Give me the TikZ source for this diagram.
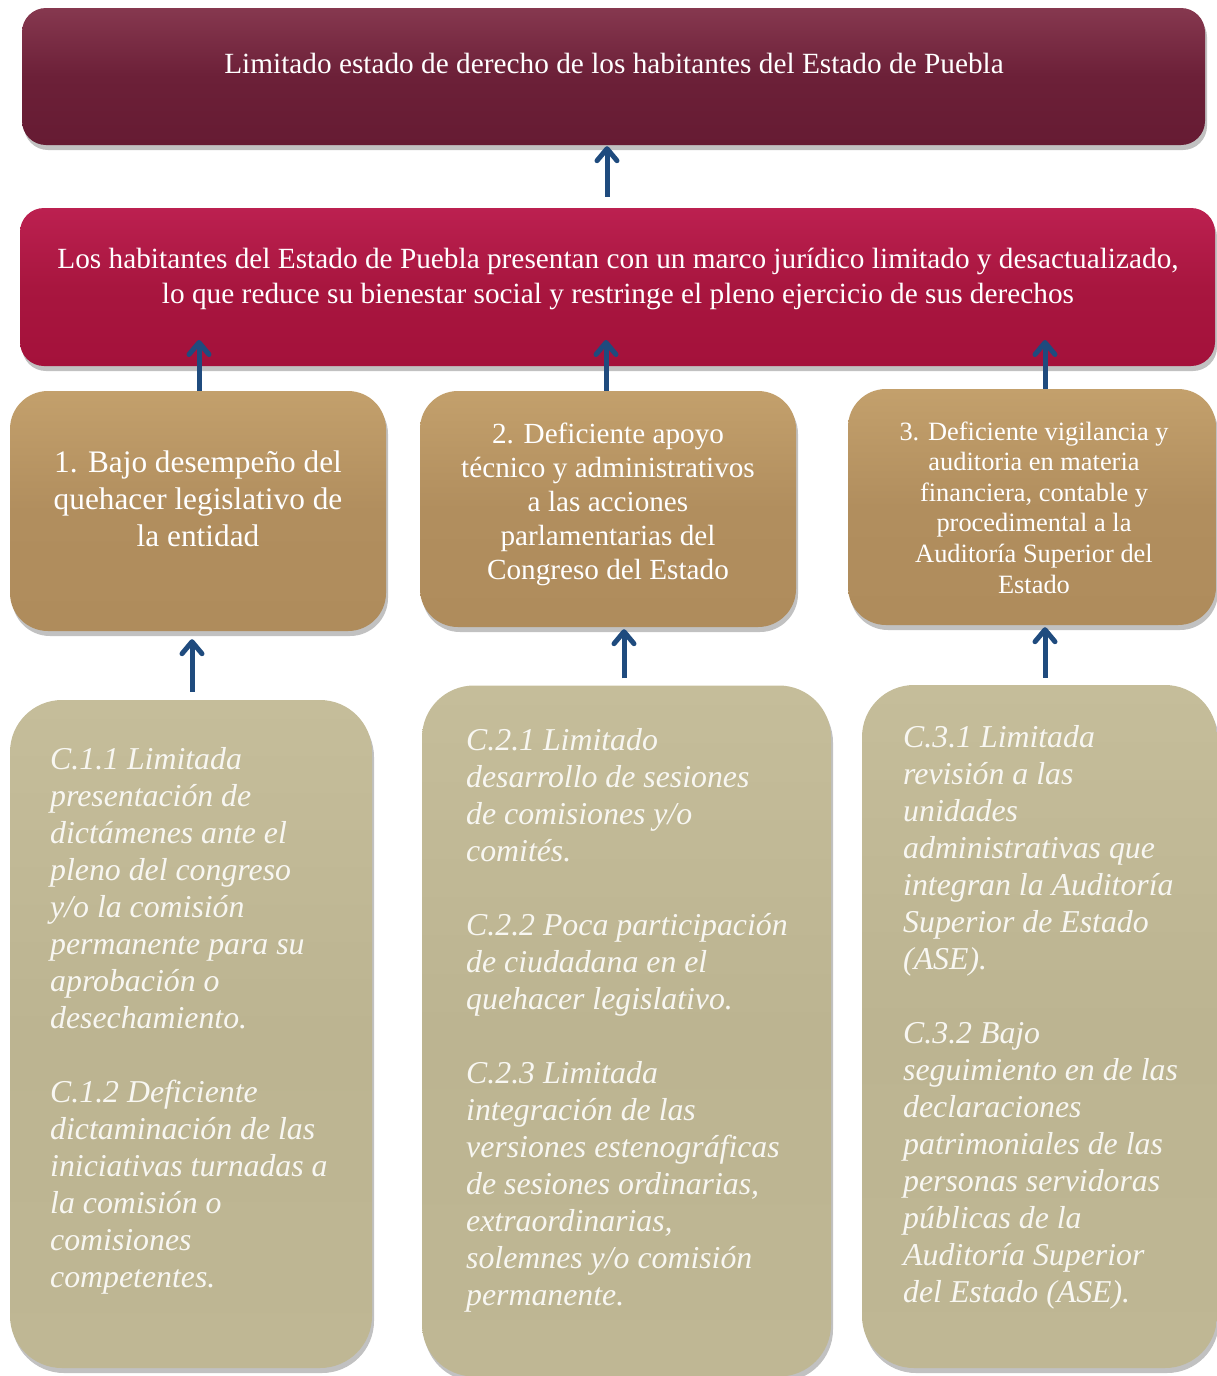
\documentclass[tikz,border=0pt]{standalone}
\usepackage{fontspec}
\setmainfont{Liberation Serif}
\usetikzlibrary{shadows,arrows.meta}
\definecolor{arrblue}{HTML}{1F4B7E}
\definecolor{ctext}{HTML}{F8F7F2}
\definecolor{aTop}{HTML}{86384F}\definecolor{aMid}{HTML}{6C2038}\definecolor{aBot}{HTML}{661B33}
\definecolor{bTop}{HTML}{BC2050}\definecolor{bMid}{HTML}{A8163F}\definecolor{bBot}{HTML}{A4113B}
\definecolor{tTop}{HTML}{C3A06C}\definecolor{tMid}{HTML}{B18E5E}\definecolor{tBot}{HTML}{AF8C5C}
\definecolor{cTop}{HTML}{C5BD9A}\definecolor{cMid}{HTML}{BCB491}\definecolor{cBot}{HTML}{BFB794}
\tikzset{
  shad/.style={drop shadow={shadow xshift=2pt,shadow yshift=-5pt,opacity=0.35,fill=black!70}},
  boxA/.style={shad,rounded corners=24pt,top color=aTop,bottom color=aBot,middle color=aMid,inner sep=0pt},
  boxB/.style={shad,rounded corners=24pt,top color=bTop,bottom color=bBot,middle color=bMid,inner sep=0pt},
  boxT/.style={shad,rounded corners=38pt,top color=tTop,bottom color=tBot,middle color=tMid,inner sep=0pt},
  boxC/.style={shad,rounded corners=52pt,top color=cTop,bottom color=cBot,middle color=cMid,inner sep=0pt},
  wtext/.style={text=white,align=center,inner sep=0pt},
  ctxt/.style={text=ctext,align=left,inner sep=0pt,anchor=north west,font=\fontsize{31.8}{37}\selectfont\itshape},
  arr/.style={draw=arrblue,line width=5pt,-{Straight Barb[length=12pt,width=20pt,round]}},
}
\begin{document}
\begin{tikzpicture}[x=1pt,y=-1pt]
\useasboundingbox (0,0) rectangle (1217,1376);
% boxes
\node[boxA,minimum width=1183pt,minimum height=137pt] (bA) at (613.5,76.5) {};
\node[boxB,minimum width=1195pt,minimum height=158pt] (bB) at (617.5,287) {};
\node[boxT,minimum width=376pt,minimum height=240pt] (b1) at (198,511) {};
\node[boxT,minimum width=376pt,minimum height=236pt] (b2) at (608,509) {};
\node[boxT,minimum width=368pt,minimum height=236pt] (b3) at (1032,507) {};
\node[boxC,minimum width=362pt,minimum height=668pt] (c1) at (191,1034) {};
\node[boxC,minimum width=409pt,minimum height=691pt] (c2) at (626.5,1031) {};
\node[boxC,minimum width=355pt,minimum height=683pt] (c3) at (1039.5,1026.5) {};
% texts
\node[wtext,font=\fontsize{29.3}{35}\selectfont] (tA) at (614,63) {Limitado estado de derecho de los habitantes del Estado de Puebla};
\node[wtext,font=\fontsize{29.3}{35}\selectfont] (tB) at (618,279) {Los habitantes del Estado de Puebla presentan con un marco jurídico limitado y desactualizado,\\lo que reduce su bienestar social y restringe el pleno ejercicio de sus derechos};
\node[wtext,font=\fontsize{31.3}{37}\selectfont] (t1) at (198,499) {1. Bajo desempeño del\\quehacer legislativo de\\la entidad};
\node[wtext,font=\fontsize{29.2}{34}\selectfont] (t2) at (608,504) {2. Deficiente apoyo\\técnico y administrativos\\a las acciones\\parlamentarias del\\Congreso del Estado};
\node[wtext,font=\fontsize{26.4}{30.6}\selectfont] (t3) at (1034,507.5) {3. Deficiente vigilancia y\\auditoria en materia\\financiera, contable y\\procedimental a la\\Auditoría Superior del\\Estado};
\node[ctxt] (tc1) at (50,747) {C.1.1 Limitada\\presentación de\\dictámenes ante el\\pleno del congreso\\y/o la comisión\\permanente para su\\aprobación o\\desechamiento.\\[37pt]C.1.2 Deficiente\\dictaminación de las\\iniciativas turnadas a\\la comisión o\\comisiones\\competentes.};
\node[ctxt] (tc2) at (466,728) {C.2.1 Limitado\\desarrollo de sesiones\\de comisiones y/o\\comités.\\[37pt]C.2.2 Poca participación\\de ciudadana en el\\quehacer legislativo.\\[37pt]C.2.3 Limitada\\integración de las\\versiones estenográficas\\de sesiones ordinarias,\\extraordinarias,\\solemnes y/o comisión\\permanente.};
\node[ctxt] (tc3) at (903,725) {C.3.1 Limitada\\revisión a las\\unidades\\administrativas que\\integran la Auditoría\\Superior de Estado\\(ASE).\\[37pt]C.3.2 Bajo\\seguimiento en de las\\declaraciones\\patrimoniales de las\\personas servidoras\\públicas de la\\Auditoría Superior\\del Estado (ASE).};
% connectors
\coordinate (k1) at (199,340);
\coordinate (k2) at (606,340);
\coordinate (k3) at (1045,340);
\draw[arr] ([yshift=11pt]bB.north -| 607,0) -- ([yshift=-1pt]bA.south -| 607,0);
\draw[arr] (b1.north -| k1) -- (k1);
\draw[arr] (b2.north -| k2) -- (k2);
\draw[arr] (b3.north -| k3) -- (k3);
\draw[arr] ([yshift=8pt]c1.north -| 192,0) -- ([yshift=-8pt]b1.south -| 192,0);
\draw[arr] ([yshift=7pt]c2.north -| 624,0) -- ([yshift=-2pt]b2.south -| 624,0);
\draw[arr] ([yshift=7pt]c3.north -| 1045,0) -- ([yshift=-2pt]b3.south -| 1045,0);
\end{tikzpicture}
\end{document}
